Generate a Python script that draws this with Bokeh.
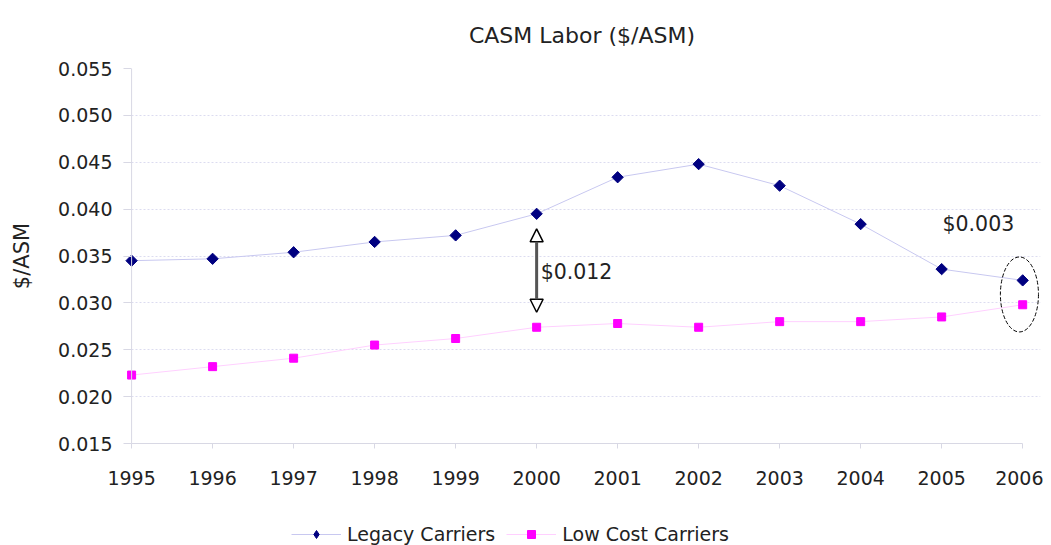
import math
from bokeh.plotting import figure
from bokeh.layouts import column
from bokeh.models import (Range1d, FixedTicker, NumeralTickFormatter, Legend, LegendItem,
                          Label, Arrow, NormalHead, Span)
from bokeh.embed import file_html
from bokeh.resources import INLINE

years = [1995, 1996, 1997, 1998, 1999, 2000, 2001, 2002, 2003, 2004, 2005, 2006]
legacy = [0.0345, 0.0347, 0.0354, 0.0365, 0.0372, 0.0395, 0.0434, 0.0448, 0.0425, 0.0384, 0.0336, 0.0324]
low_cost = [0.0223, 0.0232, 0.0241, 0.0255, 0.0262, 0.0274, 0.0278, 0.0274, 0.0280, 0.0280, 0.0285, 0.0298]
y_ticks = [0.015, 0.020, 0.025, 0.030, 0.035, 0.040, 0.045, 0.050, 0.055]

title_text = "CASM Labor ($/ASM)"
y_label = "$/ASM"
series_names = ["Legacy Carriers", "Low Cost Carriers"]
gap_label = "$0.012"
end_label = "$0.003"

FONT = "DejaVu Sans"
TXT = "#222222"
AXC = "#d8d8e4"
LEGACY_LINE, LEGACY_MARK = "#c8c8f0", "#000080"
LOW_LINE, LOW_MARK = "#ffd0ff", "#ff00ff"

p = figure(width=1043, height=500, output_backend="svg", toolbar_location=None,
           x_range=Range1d(years[0] - 0.1, years[-1] + 0.22),
           y_range=Range1d(y_ticks[0], y_ticks[-1]),
           min_border_left=123, min_border_right=3, min_border_top=68, min_border_bottom=57)
p.outline_line_color = None
p.background_fill_color = "white"
p.border_fill_color = "white"

p.title.text = title_text
p.title.align = "center"
p.title.text_font = FONT
p.title.text_font_size = "22px"
p.title.text_font_style = "normal"
p.title.text_color = TXT
p.title.standoff = 41

# axes
p.xaxis.ticker = FixedTicker(ticks=years)
p.yaxis.ticker = FixedTicker(ticks=y_ticks)
p.yaxis.formatter = NumeralTickFormatter(format="0.000")
p.xaxis.bounds = (years[0], years[-1])
for ax in (p.xaxis[0], p.yaxis[0]):
    ax.axis_line_color = AXC
    ax.major_tick_line_color = AXC
    ax.minor_tick_line_color = None
    ax.major_label_text_font = FONT
    ax.major_label_text_font_size = "19px"
    ax.major_label_text_color = TXT
p.xaxis.major_tick_in = 0
p.xaxis.major_tick_out = 5
p.xaxis.major_label_standoff = 22
p.yaxis.axis_line_color = None
p.yaxis.major_tick_in = 8
p.yaxis.major_tick_out = 0
p.yaxis.major_label_standoff = 11
p.yaxis.axis_label = y_label
p.yaxis.axis_label_text_font = FONT
p.yaxis.axis_label_text_font_size = "21px"
p.yaxis.axis_label_text_font_style = "normal"
p.yaxis.axis_label_text_color = TXT
p.yaxis.axis_label_standoff = 21
p.add_layout(Span(location=years[0], dimension="height", line_color=AXC, line_width=1))

p.xgrid.visible = False
p.ygrid.grid_line_color = "#dcdcf0"
p.ygrid.grid_line_dash = "2 2"
p.ygrid.bounds = (years[0], years[-1])

# series
p.line(years, legacy, line_color=LEGACY_LINE, line_width=1)
p.scatter(years, legacy, marker="square", angle=math.pi / 4, size=8,
          fill_color=LEGACY_MARK, line_color=LEGACY_MARK)
p.line(years, low_cost, line_color=LOW_LINE, line_width=1)
p.scatter(years, low_cost, marker="square", size=8, fill_color=LOW_MARK, line_color=LOW_MARK)

# annotations
i2000 = years.index(2000)
arrow_gap = 0.0016
p.add_layout(Arrow(start=NormalHead(size=13, fill_color="white", line_color="black", line_width=1.5),
                   end=NormalHead(size=13, fill_color="white", line_color="black", line_width=1.5),
                   x_start=years[i2000], y_start=low_cost[i2000] + arrow_gap,
                   x_end=years[i2000], y_end=legacy[i2000] - arrow_gap,
                   line_color="#555555", line_width=3))
p.add_layout(Label(x=years[i2000] + 0.05, y=(legacy[i2000] + low_cost[i2000]) / 2 - 0.0002,
                   text=gap_label, text_font=FONT, text_font_size="20.5px",
                   text_color=TXT, text_baseline="middle"))

p.ellipse(x=[years[-1] - 0.04], y=[(legacy[-1] + low_cost[-1]) / 2 - 0.0002],
          width=0.47, height=0.0080, fill_color=None, line_color="black",
          line_dash="4 2", line_width=1)
p.add_layout(Label(x=years[-1] - 0.99, y=legacy[-1] + 0.006, text=end_label,
                   text_font=FONT, text_font_size="20.5px", text_color=TXT,
                   text_baseline="middle"))

# legend strip (legend proxies reuse the first data point, which lies outside this strip's range)
lg = figure(width=1043, height=45, output_backend="svg", toolbar_location=None,
            x_axis_type=None, y_axis_type=None, x_range=Range1d(0, 1), y_range=Range1d(0, 1),
            min_border=0)
lg.outline_line_color = None
lg.grid.visible = False
ll1 = lg.line(x=years[:1], y=legacy[:1], line_color=LEGACY_LINE, line_width=1)
ls1 = lg.scatter(x=years[:1], y=legacy[:1], marker="diamond", size=12,
                 fill_color=LEGACY_MARK, line_color=LEGACY_MARK)
ll2 = lg.line(x=years[:1], y=low_cost[:1], line_color=LOW_LINE, line_width=1)
ls2 = lg.scatter(x=years[:1], y=low_cost[:1], marker="square", size=8,
                 fill_color=LOW_MARK, line_color=LOW_MARK)
legend = Legend(items=[LegendItem(label=series_names[0], renderers=[ll1, ls1]),
                       LegendItem(label=series_names[1], renderers=[ll2, ls2])],
                location=(168, 0), orientation="horizontal",
                glyph_width=50, glyph_height=20, label_standoff=6, spacing=11,
                padding=0, margin=0, border_line_color=None, background_fill_alpha=0,
                label_text_font=FONT, label_text_font_size="19px", label_text_color=TXT)
lg.add_layout(legend, "center")

open("out.html", "w").write(file_html(column(p, lg, spacing=0), INLINE))
